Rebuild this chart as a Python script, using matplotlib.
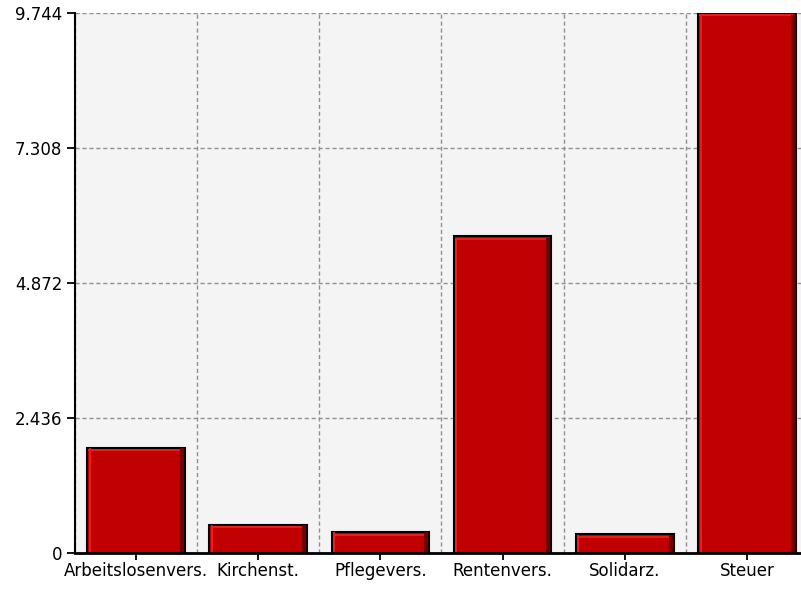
import matplotlib
matplotlib.use("Agg")
import matplotlib.pyplot as plt
import matplotlib.transforms as mtransforms
import numpy as np

categories = ["Arbeitslosenvers.", "Kirchenst.", "Pflegevers.", "Rentenvers.", "Solidarz.", "Steuer"]
values = [1.89, 0.50, 0.37, 5.71, 0.33, 9.744]
ytick_values = [0, 2.436, 4.872, 7.308, 9.744]
ytick_labels = ["0", "2.436", "4.872", "7.308", "9.744"]

fig = plt.figure(figsize=(8.01, 5.91), dpi=100)
W, H = 801, 591
left_px, right_px, top_px, bottom_px = 75, 808, 12.7, 552.7
ax = fig.add_axes([left_px / W, (H - bottom_px) / H, (right_px - left_px) / W, (bottom_px - top_px) / H])
ax.set_facecolor("#f4f4f4")

x = np.arange(len(categories))
bw = 0.8
ax.bar(x, values, width=bw, color="#c00000", edgecolor="black", linewidth=1.5, zorder=3)

# bevel highlights
t_down = mtransforms.offset_copy(ax.transData, fig=fig, x=0, y=-2.5, units="dots")
t_right = mtransforms.offset_copy(ax.transData, fig=fig, x=2.5, y=0, units="dots")
t_left = mtransforms.offset_copy(ax.transData, fig=fig, x=-3, y=0, units="dots")
for xi, v in zip(x, values):
    ax.plot([xi - bw / 2 + 0.01, xi + bw / 2 - 0.02], [v, v], color="#ff1a1a", lw=1.3,
            transform=t_down, zorder=4, solid_capstyle="butt", clip_on=False)
    ax.plot([xi - bw / 2, xi - bw / 2], [0, v * 0.995], color="#ff1a1a", lw=1.3,
            transform=t_right, zorder=4, solid_capstyle="butt", clip_on=False)
    ax.plot([xi + bw / 2, xi + bw / 2], [0, v * 0.995], color="#700000", lw=3,
            transform=t_left, zorder=4, solid_capstyle="butt", clip_on=False)

ax.set_xlim(-0.5, len(categories) - 0.5)
ax.set_ylim(0, ytick_values[-1])
ax.set_xticks(x)
ax.set_xticklabels(categories, fontsize=12)
ax.set_yticks(ytick_values)
ax.set_yticklabels(ytick_labels, fontsize=12)
ax.set_xticks(np.arange(len(categories) + 1) - 0.5, minor=True)
ax.tick_params(axis="x", which="minor", length=0)
ax.tick_params(axis="y", which="major", length=6, width=1.3, color="black", pad=3)
ax.tick_params(axis="x", which="major", length=5, width=1.3, color="black", pad=2)

ax.grid(True, axis="y", which="major", color="#909090", linestyle=(0, (3, 2)), linewidth=1, zorder=1)
ax.grid(True, axis="x", which="minor", color="#909090", linestyle=(0, (3, 2)), linewidth=1, zorder=1)

for s in ["top", "right"]:
    ax.spines[s].set_visible(False)
ax.spines["left"].set_linewidth(1.5)
ax.spines["bottom"].set_linewidth(2)
ax.spines["left"].set_zorder(5)
ax.spines["bottom"].set_zorder(5)

fig.savefig("out.png", dpi=100)
